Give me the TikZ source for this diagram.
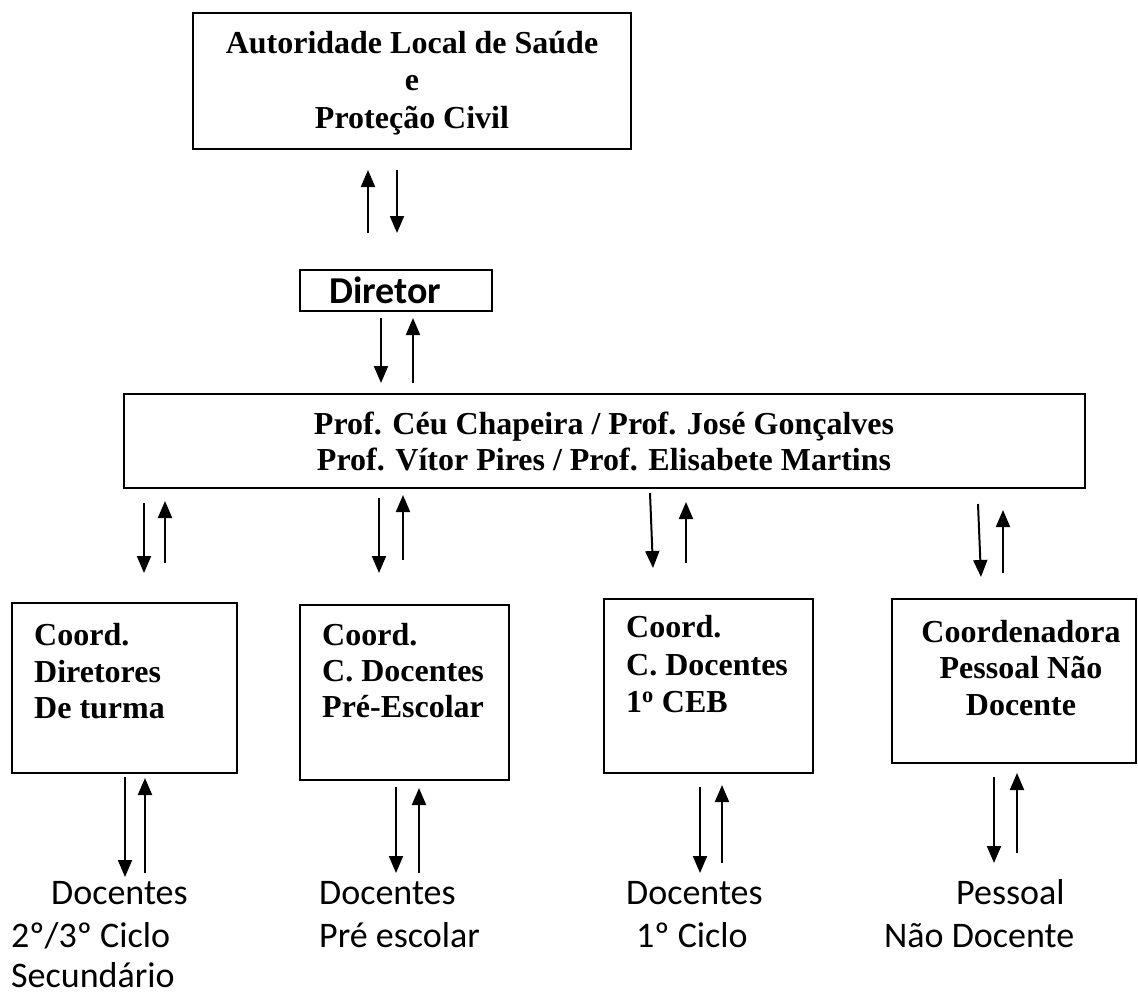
\documentclass[tikz,border=0pt]{standalone}
\usepackage{fontspec}
\setmainfont{Liberation Serif}
\newfontfamily\calibri{Carlito}
\usetikzlibrary{arrows.meta}
\begin{document}
\begin{tikzpicture}[x=1pt,y=-1pt,
  box/.style={draw, line width=1.8pt, inner sep=0pt},
  arr/.style={line width=2pt, -{Triangle[width=14pt,length=17pt]}},
  serifb/.style={font=\bfseries\fontsize{32}{37}\selectfont, inner sep=0pt},
  cal/.style={font=\calibri\fontsize{36}{44}\selectfont, inner sep=0pt},
  calb/.style={font=\calibri\bfseries\fontsize{38}{44}\selectfont, inner sep=0pt}]
\useasboundingbox (0,0) rectangle (1138,996);

% boxes
\node[box, minimum width=438pt, minimum height=136pt] (top) at (412,81) {};
\node[box, minimum width=192pt, minimum height=41pt] (dir) at (396,290.5) {};
\node[box, line width=2pt, minimum width=961pt, minimum height=94pt] (mid) at (604.5,441) {};
\node[box, minimum width=225pt, minimum height=170pt] (c1) at (124.5,688) {};
\node[box, minimum width=209pt, minimum height=175pt] (c2) at (404.5,692.5) {};
\node[box, minimum width=209pt, minimum height=174pt] (c3) at (708.5,686) {};
\node[box, minimum width=244pt, minimum height=164pt] (c4) at (1014,681) {};

% texts
\node[serifb, anchor=base] (ta) at (412,53) {Autoridade Local de Saúde};
\node[serifb, anchor=base] (tb) at (412,90) {e};
\node[serifb, anchor=base] (tc) at (412,128) {Proteção Civil};
\node[calb, anchor=base west] (td) at (329,303) {Diretor};
\node[serifb, anchor=base] (m1) at (604,434) {Prof. Céu Chapeira / Prof. José Gonçalves};
\node[serifb, anchor=base] (m2) at (604,470) {Prof. Vítor Pires / Prof. Elisabete Martins};

\node[serifb, anchor=base west] (c1a) at (34,645) {Coord.};
\node[serifb, anchor=base west] (c1b) at (34,682) {Diretores};
\node[serifb, anchor=base west] (c1c) at (34,718) {De turma};

\node[serifb, anchor=base west] (c2a) at (322,645) {Coord.};
\node[serifb, anchor=base west] (c2b) at (322,681) {C. Docentes};
\node[serifb, anchor=base west] (c2c) at (322,717) {Pré-Escolar};

\node[serifb, anchor=base west] (c3a) at (626,637) {Coord.};
\node[serifb, anchor=base west] (c3b) at (626,675) {C. Docentes};
\node[serifb, anchor=base west] (c3c) at (626,712) {1\textsuperscript{o} CEB};

\node[serifb, anchor=base] (c4a) at (1021,642) {Coordenadora};
\node[serifb, anchor=base] (c4b) at (1021,678) {Pessoal Não};
\node[serifb, anchor=base] (c4c) at (1021,715) {Docente};

\node[cal, anchor=base west] (l1a) at (51,904) {Docentes};
\node[cal, anchor=base west] (l1b) at (11,947) {2º/3º Ciclo};
\node[cal, anchor=base west] (l1c) at (11,987) {Secundário};
\node[cal, anchor=base west] (l2a) at (319,904) {Docentes};
\node[cal, anchor=base west] (l2b) at (319,947) {Pré escolar};
\node[cal, anchor=base west] (l3a) at (626,904) {Docentes};
\node[cal, anchor=base west] (l3b) at (636,947) {1º Ciclo};
\node[cal, anchor=base west] (l4a) at (956,904) {Pessoal};
\node[cal, anchor=base west] (l4b) at (884,947) {Não Docente};

% arrows
\foreach \n/\xa/\ya/\xb/\yb in {
  ua/368/233/368/170, da/397/170/397/233,
  db/381/318/381/383, ub/413/383/413/318,
  dc1/144/503/144/573, uc1/165/563/165/501,
  dc2/379/498/379/573, uc2/403/560/403/495,
  dc3/650/493/653/568, uc3/686/563/686/502,
  dc4/978/504/981/577, uc4/1003/573/1003/510,
  dd1/125/777/125/877, ud1/145/873/145/778,
  dd2/396/787/396/873, ud2/419/873/419/788,
  dd3/700/787/700/873, ud3/722/863/722/785,
  dd4/994/777/994/863, ud4/1017/853/1017/773}{
  \coordinate (\n s) at (\xa,\ya);
  \coordinate (\n e) at (\xb,\yb);
  \draw[arr] (\n s) -- (\n e);
}
\end{tikzpicture}
\end{document}
